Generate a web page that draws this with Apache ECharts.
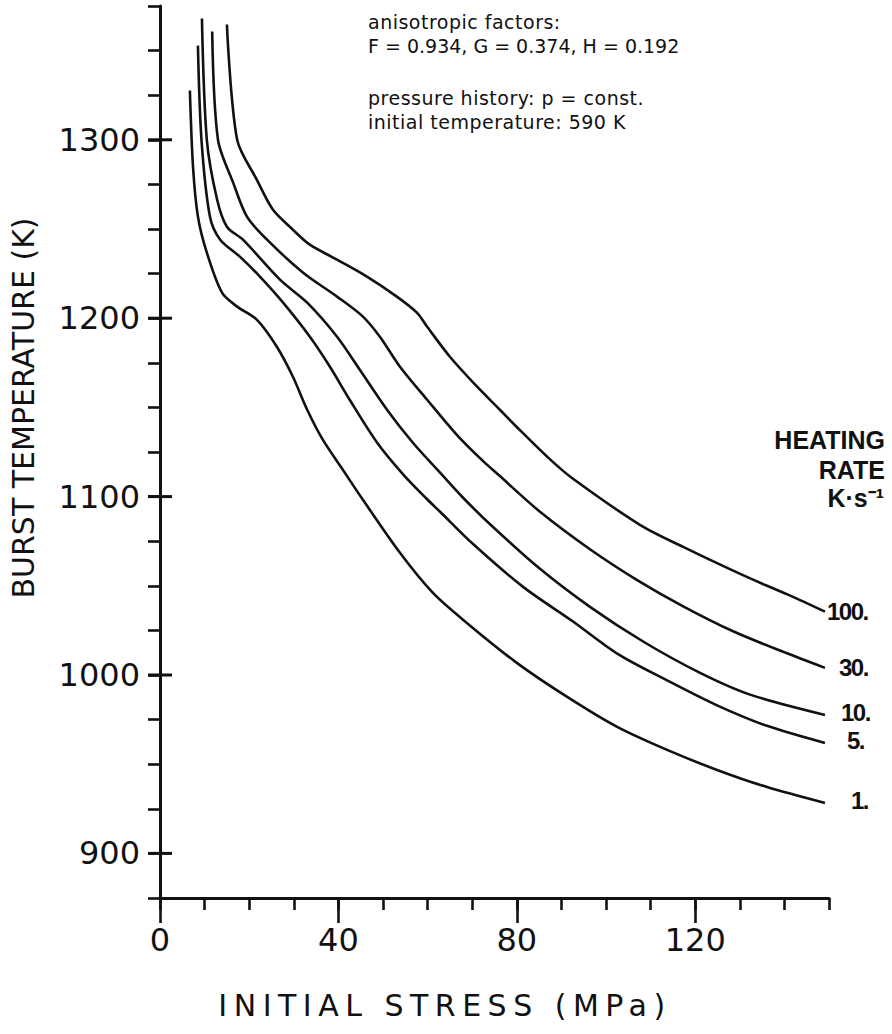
<!DOCTYPE html>
<html><head><meta charset="utf-8">
<script src="https://cdn.jsdelivr.net/npm/echarts@6/dist/echarts.min.js"></script>
<style>html,body{margin:0;padding:0;background:#fff}#c{width:892px;height:1034px}</style>
</head><body><div id="c"></div>
<script>
// ---- data (initial stress in MPa, burst temperature in K) ----
const rate1Stress = [6.7, 7.4, 8.5, 10.5, 13.9, 17.3, 21.7, 26.2, 29.8, 33.0, 36.5, 41.0, 45.5, 53.8, 61.2, 68.8, 80.0, 91.3, 102.5, 113.7, 124.9, 136.1, 149.1];
const rate1Temp   = [1327.6, 1285, 1257, 1236.7, 1214.3, 1206.5, 1199.2, 1184, 1167.2, 1148.7, 1131.9, 1115, 1098.2, 1068.5, 1046, 1029.2, 1006.8, 987.7, 970.9, 958, 946.8, 937.2, 928.3];
const rate5Stress = [8.5, 9.3, 11.2, 13.5, 17.9, 22.4, 27.6, 33.6, 38.1, 42.6, 48.7, 54.5, 59.9, 62.8, 70.2, 81.4, 92.6, 102.5, 113.7, 124.9, 136.1, 149.1];
const rate5Temp   = [1352.8, 1300, 1256.9, 1244, 1234.5, 1223.3, 1208.7, 1189.6, 1172.8, 1154, 1130.2, 1112.5, 1098.5, 1091.5, 1073.4, 1049.4, 1030, 1012, 997, 983, 971.5, 961.9];
const rate10Stress = [9.4, 10.5, 12.8, 15.0, 18.6, 26.9, 33.0, 39.7, 44.8, 50.9, 56.7, 62.8, 67.9, 74.0, 85.2, 96.4, 108.5, 121.1, 132.3, 149.1];
const rate10Temp   = [1368, 1300, 1266.5, 1251.3, 1244, 1221.6, 1208.7, 1189.6, 1171.1, 1148.7, 1130.2, 1113.4, 1099.5, 1084.5, 1059.5, 1038.2, 1018.5, 1001.2, 989, 977.6];
const rate30Stress = [11.7, 13.0, 16.4, 19.5, 24.0, 32.1, 39.7, 45.5, 49.3, 53.8, 59.9, 66.6, 72.4, 76.2, 85.2, 96.4, 106.8, 117.3, 128.5, 139.7, 149.1];
const rate30Temp   = [1360.7, 1300, 1276, 1256.9, 1244, 1225.5, 1212.1, 1200.9, 1189.6, 1172.8, 1154.3, 1134.5, 1120, 1111.5, 1091.5, 1070.5, 1053.5, 1038.5, 1024.5, 1013, 1004];
const rate100Stress = [15.0, 17.3, 21.7, 25.3, 29.8, 33.6, 39.7, 46.4, 53.1, 57.6, 59.9, 65.0, 71.1, 76.2, 80.0, 87.4, 92.6, 107.6, 117.3, 128.5, 136.1, 141.3, 149.1];
const rate100Temp   = [1364.6, 1300, 1277.7, 1260.9, 1249.6, 1241.2, 1232.8, 1223.3, 1212.1, 1203.1, 1195.2, 1178.4, 1161.6, 1148.7, 1139, 1121, 1110, 1084.2, 1071.8, 1058.5, 1050, 1044.5, 1035.5];

const rateLabels = ['100.', '30.', '10.', '5.', '1.'];

const xTickValues  = [0, 10, 20, 30, 40, 50, 60, 70, 80, 90, 100, 110, 120, 130, 140, 150];
const xLabelValues = [0, 40, 80, 120];
const yTickValues  = [875, 900, 925, 950, 975, 1000, 1025, 1050, 1075, 1100, 1125, 1150, 1175, 1200, 1225, 1250, 1275, 1300, 1325, 1350, 1375];
const yLabelValues = [900, 1000, 1100, 1200, 1300];

const noteLines = ['anisotropic factors:', 'F = 0.934, G = 0.374, H = 0.192', 'pressure history: p = const.', 'initial temperature: 590 K'];
const xTitle = 'INITIAL STRESS (MPa)';
const yTitle = 'BURST TEMPERATURE (K)';
const rateTitle = ['HEATING', 'RATE', 'K·s⁻¹'];

// ---- chart ----
const INK = '#111';
const chart = echarts.init(document.getElementById('c'), null, {renderer: 'svg', width: 892, height: 1034});

function pairs(xs, ys) { return xs.map((x, i) => [x, ys[i]]); }
function curve(label, xs, ys, off) {
  return {
    type: 'line', name: label, data: pairs(xs, ys), xAxisIndex: 0, yAxisIndex: 0,
    showSymbol: false, smooth: 0.3, animation: false, silent: true,
    lineStyle: {color: INK, width: 2.6},
    endLabel: {show: true, formatter: () => label, color: INK, distance: 2, offset: off,
      fontSize: 24, fontWeight: 'bold', fontFamily: "'Liberation Sans'"}
  };
}

const tickStyle = {color: INK, width: 2.6};
const labelFont = "'DejaVu Sans'";

const textGraphics = [
  {type: 'text', x: 368, y: 22, silent: true, style: {text: noteLines[0], fill: INK, font: "19px 'DejaVu Sans'", align: 'left', verticalAlign: 'middle'}},
  {type: 'text', x: 368, y: 46, silent: true, style: {text: noteLines[1], fill: INK, font: "19px 'DejaVu Sans'", align: 'left', verticalAlign: 'middle'}},
  {type: 'text', x: 368, y: 98, silent: true, style: {text: noteLines[2], fill: INK, font: "19px 'DejaVu Sans'", align: 'left', verticalAlign: 'middle'}},
  {type: 'text', x: 368, y: 122, silent: true, style: {text: noteLines[3], fill: INK, font: "19px 'DejaVu Sans'", align: 'left', verticalAlign: 'middle'}},
  {type: 'text', x: 885, y: 440, silent: true, style: {text: rateTitle[0], fill: INK, font: "bold 25px 'Liberation Sans'", align: 'right', verticalAlign: 'middle'}},
  {type: 'text', x: 885, y: 470, silent: true, style: {text: rateTitle[1], fill: INK, font: "bold 25px 'Liberation Sans'", align: 'right', verticalAlign: 'middle'}},
  {type: 'text', x: 884, y: 498, silent: true, style: {text: rateTitle[2], fill: INK, font: "bold 25px 'Liberation Sans'", align: 'right', verticalAlign: 'middle'}},
  {type: 'text', x: 445, y: 1005, silent: true, style: {text: xTitle, fill: INK, font: "30px 'DejaVu Sans'", align: 'center', verticalAlign: 'middle'}},
  {type: 'text', x: 23, y: 408, rotation: Math.PI / 2, silent: true, style: {text: yTitle, fill: INK, font: "30px 'DejaVu Sans'", align: 'center', verticalAlign: 'middle'}}
];

chart.setOption({
  animation: false,
  backgroundColor: '#fff',
  grid: {left: 160, right: 63, top: 6, bottom: 136, containLabel: false, outerBoundsMode: 'none'},
  xAxis: [
    {type: 'value', min: 0, max: 150, position: 'bottom',
      axisLine: {show: true, onZero: false, lineStyle: {color: INK, width: 3}},
      splitLine: {show: false},
      axisTick: {show: true, inside: false, length: 12, customValues: xTickValues, lineStyle: tickStyle},
      axisLabel: {show: true, customValues: xLabelValues, color: INK, fontSize: 32, fontFamily: labelFont, margin: 26,
        formatter: v => String(v)}},
    {type: 'value', min: 0, max: 150, position: 'bottom',
      axisLine: {show: false, onZero: false}, splitLine: {show: false},
      axisTick: {show: true, inside: false, length: 25, customValues: xLabelValues, lineStyle: tickStyle},
      axisLabel: {show: false}}
  ],
  yAxis: [
    {type: 'value', min: 875, max: 1375, position: 'left',
      axisLine: {show: true, onZero: false, lineStyle: {color: INK, width: 3}},
      splitLine: {show: false},
      axisTick: {show: true, inside: false, length: 12, customValues: yTickValues, lineStyle: tickStyle},
      axisLabel: {show: true, customValues: yLabelValues, color: INK, fontSize: 32, fontFamily: labelFont, margin: 20,
        formatter: v => String(v)}}
  ],
  series: [
    curve(rateLabels[0], rate100Stress, rate100Temp, [0, 0]),
    curve(rateLabels[1], rate30Stress, rate30Temp, [12, 0]),
    curve(rateLabels[2], rate10Stress, rate10Temp, [14, -2]),
    curve(rateLabels[3], rate5Stress, rate5Temp, [20, -2]),
    curve(rateLabels[4], rate1Stress, rate1Temp, [24, -2])
  ],
  graphic: textGraphics
});

// major temperature ticks cross the axis line ("+" marks): inner halves placed through the axis scale
const crossMarks = yLabelValues.map(v => {
  const p = chart.convertToPixel({xAxisIndex: 0, yAxisIndex: 0}, [xTickValues[0], v]);
  return {type: 'line', silent: true, z: 100,
    shape: {x1: p[0] - 12, y1: p[1], x2: p[0] + 12, y2: p[1]},
    style: {stroke: INK, lineWidth: 3}};
});
chart.setOption({graphic: textGraphics.concat(crossMarks)});

// wide / narrow letter spacing of the original lettering (SVG renderer)
const spacing = {};
spacing[xTitle] = 6.5;
spacing[noteLines[0]] = 0.5;
spacing[noteLines[2]] = 0.5;
spacing[noteLines[3]] = 0.5;
rateLabels.forEach(l => { spacing[l] = -1.5; });
function applySpacing() {
  document.querySelectorAll('#c svg text').forEach(t => {
    const s = spacing[t.textContent];
    if (s != null) t.setAttribute('letter-spacing', s);
  });
}
chart.on('finished', applySpacing);
setTimeout(applySpacing, 30);
setTimeout(applySpacing, 200);
</script>
</body></html>
